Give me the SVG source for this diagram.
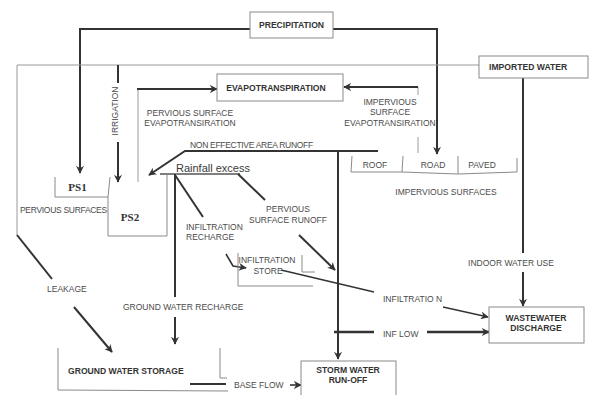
<svg xmlns="http://www.w3.org/2000/svg" width="593" height="395" viewBox="0 0 593 395">
  <style>
    .box { fill: #ffffff; stroke: #8a8a8a; stroke-width: 1; }
    .brk { fill: none; stroke: #8a8a8a; stroke-width: 1; }
    .thin { fill: none; stroke: #9a9a9a; stroke-width: 1; }
    .flow { fill: none; stroke: #333333; stroke-width: 2; }
    .flowa { fill: none; stroke: #333333; stroke-width: 2; marker-end: url(#ah); }
    .lbl { font-family: "Liberation Sans", Arial, sans-serif; font-size: 8.5px; fill: #4a4a4a; }
    .ttl { font-family: "Liberation Sans", Arial, sans-serif; font-size: 8.6px; font-weight: bold; fill: #333333; }
    .ps { font-family: "Liberation Serif", "Times New Roman", serif; font-size: 11px; font-weight: bold; fill: #333333; }
    .mid { text-anchor: middle; }
  </style>
  <defs>
    <marker id="ah" viewBox="0 0 10 10" refX="9" refY="5" markerWidth="8" markerHeight="8" markerUnits="userSpaceOnUse" orient="auto">
      <path d="M0,0 L10,5 L0,10 L3,5 z" fill="#333333"/>
    </marker>
  </defs>
  <rect width="593" height="395" fill="#ffffff"/>

  <!-- connectors -->
  <g id="connectors">
    <!-- precipitation to PS1 and to road -->
    <path class="flowa" d="M250,29 H80 V173"/>
    <path class="flowa" d="M333,29 H437 V154"/>
    <!-- imported water supply main and leakage -->
    <path class="thin" d="M479,65 H17 V235"/>
    <path class="flow" d="M17,235 L52,279"/>
    <path class="flowa" d="M74,307 L112,352"/>
    <!-- irrigation -->
    <path class="flow" d="M118,65 V83"/>
    <path class="flowa" d="M118,142 V182"/>
    <!-- pervious surface evapotranspiration -->
    <path class="thin" d="M138,182 V89"/>
    <path class="flowa" d="M137,89 H217"/>
    <!-- impervious surface evapotranspiration -->
    <path class="thin" d="M418,153 V137"/>
    <path class="thin" d="M418,95 V87"/>
    <path class="flowa" d="M418,87 H344"/>
    <!-- non effective area runoff -->
    <path class="flowa" d="M378,151 H185 L149,175"/>
    <!-- storm water collector -->
    <path class="flowa" d="M338,151 V359"/>
    <!-- rainfall excess -->
    <path fill="none" stroke="#555555" stroke-width="1.3" d="M160,174 H240"/>
    <path class="flow" d="M175,174 V297"/>
    <path class="flowa" d="M175,317 V344"/>
    <path class="flow" d="M175,175 L203,217"/>
    <path class="flow" d="M238,174 L265,200"/>
    <path class="flowa" d="M299,235 L335,270"/>
    <!-- infiltration store -->
    <path fill="none" stroke="#333333" stroke-width="1.6" marker-end="url(#ah)" d="M226,254 L233,266 L246,268"/>
    <path fill="none" stroke="#333333" stroke-width="1.4" d="M281,270 L374,292"/>
    <path fill="none" stroke="#333333" stroke-width="1.4" marker-end="url(#ah)" d="M443,307 L488,317"/>
    <!-- inflow -->
    <path fill="none" stroke="#333333" stroke-width="2.6" d="M334,332 H374"/>
    <path fill="none" stroke="#333333" stroke-width="2.6" marker-end="url(#ah)" d="M427,332 H489"/>
    <!-- indoor water use -->
    <path class="flow" d="M523,78 V253"/>
    <path class="flowa" d="M523,272 V306"/>
    <!-- base flow -->
    <path class="flow" d="M190,384 H226"/>
    <path fill="none" stroke="#333333" stroke-width="1.6" marker-end="url(#ah)" d="M290,385 H301"/>
  </g>

  <g id="precipitation">
    <rect class="box" x="250" y="12" width="83" height="26"/>
    <text class="ttl mid" x="291.5" y="28">PRECIPITATION</text>
  </g>

  <g id="imported-water">
    <rect class="box" x="479" y="56" width="109" height="22"/>
    <text class="ttl" x="489" y="70">IMPORTED WATER</text>
  </g>

  <g id="evapotranspiration">
    <rect class="box" x="217" y="74" width="126" height="27"/>
    <text class="ttl mid" x="276" y="91">EVAPOTRANSPIRATION</text>
  </g>

  <g id="irrigation">
    <text class="lbl mid" transform="translate(118,111) rotate(-90)">IRRIGATION</text>
  </g>

  <g id="pervious-evap-label">
    <text class="lbl mid" x="190" y="115.5">PERVIOUS SURFACE</text>
    <text class="lbl mid" x="190" y="125.5">EVAPOTRANSIRATION</text>
  </g>

  <g id="impervious-evap-label">
    <text class="lbl mid" x="390" y="104.5">IMPERVIOUS</text>
    <text class="lbl mid" x="390" y="115">SURFACE</text>
    <text class="lbl mid" x="390" y="125.5">EVAPOTRANSIRATION</text>
  </g>

  <g id="non-effective-runoff">
    <text class="lbl" x="190" y="147.5" letter-spacing="-0.3">NON EFFECTIVE AREA RUNOFF</text>
  </g>

  <g id="impervious-surfaces">
    <path class="brk" d="M352,156 L351,172 H402 L403,156 M402,172 L458,174 L517,172 V158 M458,174 V156"/>
    <text class="lbl mid" x="375" y="167.5">ROOF</text>
    <text class="lbl mid" x="433" y="167.5">ROAD</text>
    <text class="lbl mid" x="482" y="167.5">PAVED</text>
    <text class="lbl mid" x="446" y="194.5">IMPERVIOUS SURFACES</text>
  </g>

  <g id="ps1">
    <path class="brk" d="M55,177 V197 H108 L110,177"/>
    <text class="ps mid" x="77.5" y="191">PS1</text>
  </g>

  <g id="pervious-surfaces">
    <text class="lbl" x="20" y="212.5" letter-spacing="-0.3">PERVIOUS SURFACES</text>
  </g>

  <g id="ps2">
    <path class="brk" d="M108,197 V236 H167 V175"/>
    <text class="ps mid" x="130" y="221">PS2</text>
  </g>

  <g id="rainfall-excess">
    <text x="176" y="172" font-family="Liberation Sans, Arial, sans-serif" font-size="11" fill="#3a3a3a">Rainfall excess</text>
  </g>

  <g id="infiltration-recharge">
    <text class="lbl" x="186" y="230">INFILTRATION</text>
    <text class="lbl" x="186" y="240">RECHARGE</text>
  </g>

  <g id="pervious-runoff">
    <text class="lbl mid" x="288" y="211.5">PERVIOUS</text>
    <text class="lbl mid" x="288" y="222.5">SURFACE RUNOFF</text>
  </g>

  <g id="infiltration-store">
    <path class="brk" d="M238,253 V286 H313 M302,255 V272 H315"/>
    <text class="lbl mid" x="267" y="263">INFILTRATION</text>
    <text class="lbl mid" x="268" y="273.5">STORE</text>
  </g>

  <g id="infiltration">
    <text class="lbl" x="383" y="301.5">INFILTRATIO N</text>
  </g>

  <g id="inflow">
    <text class="lbl" x="383" y="337">INF LOW</text>
  </g>

  <g id="indoor-water-use">
    <text class="lbl mid" x="511" y="265.5">INDOOR WATER USE</text>
  </g>

  <g id="wastewater-discharge">
    <rect class="box" x="489" y="307" width="95" height="36"/>
    <text class="ttl mid" x="536" y="320.5">WASTEWATER</text>
    <text class="ttl mid" x="536" y="330.5">DISCHARGE</text>
  </g>

  <g id="leakage">
    <text class="lbl" x="47" y="292">LEAKAGE</text>
  </g>

  <g id="ground-water-recharge">
    <text class="lbl" x="123" y="310">GROUND WATER RECHARGE</text>
  </g>

  <g id="ground-water-storage">
    <path class="brk" d="M58,348 V390 L228,391 M220,348 V378 H227"/>
    <text class="ttl" x="68" y="373.5">GROUND WATER STORAGE</text>
  </g>

  <g id="base-flow">
    <text class="lbl" x="234" y="387.5">BASE FLOW</text>
  </g>

  <g id="storm-water-runoff">
    <rect class="box" x="301" y="361" width="95" height="40"/>
    <text class="ttl mid" x="348" y="373">STORM WATER</text>
    <text class="ttl mid" x="348" y="383">RUN-OFF</text>
  </g>
</svg>
